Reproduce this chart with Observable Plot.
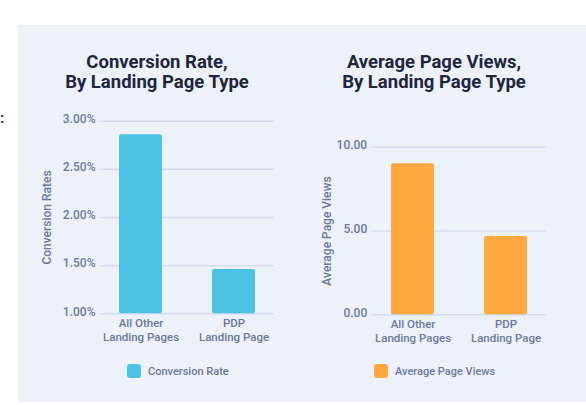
<!DOCTYPE html>
<html>
<head>
<meta charset="utf-8">
<script src="https://cdn.jsdelivr.net/npm/d3@7"></script>
<script src="https://cdn.jsdelivr.net/npm/@observablehq/plot@0.6"></script>
<style>
  html, body { margin: 0; padding: 0; background: #ffffff; }
  body { width: 586px; height: 405px; position: relative; overflow: hidden; font-family: Roboto, "Noto Sans", sans-serif; }
  #panel { position: absolute; left: 18px; top: 25px; width: 568px; height: 377px; background: #edf1fa; }
  .title { position: absolute; width: 300px; text-align: center; font-weight: 700; font-size: 18.5px; line-height: 20px; color: #1d2640; }
  .chart { position: absolute; }
  .legend { position: absolute; display: flex; align-items: center; font-size: 11px; color: #6a79a0; font-weight: 500; }
  .swatch { width: 14px; height: 14px; border-radius: 3px; margin-right: 7px; }
  #mark { position: absolute; left: 0px; top: 109px; font-weight: 700; font-size: 15px; color: #1b2b6e; }
</style>
</head>
<body>
<div id="mark">:</div>
<div id="panel"></div>
<div class="title" id="t1" style="left:7px; top:52px;"></div>
<div class="title" id="t2" style="left:284px; top:52px;"></div>
<div class="chart" id="c1" style="left:0px; top:100px;"></div>
<div class="chart" id="c2" style="left:290px; top:100px;"></div>
<div class="legend" id="l1" style="left:127px; top:364px;"></div>
<div class="legend" id="l2" style="left:374px; top:364px;"></div>
<script>
// Landing page categories (shown on two lines under each bar)
const categories = ["All Other\nLanding Pages", "PDP\nLanding Page"];

// Conversion rate, in percent
const conversionRate = [2.86, 1.46];
const conversionTicks = [1.0, 1.5, 2.0, 2.5, 3.0];

// Average page views per session
const pageViews = [9.01, 4.67];
const pageViewTicks = [0, 5, 10];

const titles = ["Conversion Rate,\nBy Landing Page Type", "Average Page Views,\nBy Landing Page Type"];
const seriesNames = ["Conversion Rate", "Average Page Views"];
const axisLabels = ["Conversion Rates", "Average Page Views"];
const colors = ["#4cc3e5", "#ffa940"];

const tickColor = "#6a79a0";
const gridColor = "#d3ddf1";

function barChart({values, ticks, domain, format, color, label, width, marginLeft, marginRight, marginTop, marginBottom, labelOffset}) {
  const data = categories.map((c, i) => ({cat: c, v: values[i]}));
  return Plot.plot({
    width,
    height: 250,
    marginLeft, marginRight, marginTop, marginBottom,
    style: {background: "transparent", fontFamily: "Roboto, sans-serif", fontSize: "12px", color: tickColor, fontWeight: 500},
    x: {domain: categories, paddingInner: 0.54, paddingOuter: 0.2},
    y: {domain},
    marks: [
      Plot.gridY(ticks, {stroke: gridColor, strokeOpacity: 1, strokeWidth: 1.5}),
      Plot.barY(data, {x: "cat", y1: domain[0], y2: "v", fill: color, rx: 2}),
      Plot.axisY(ticks, {tickSize: 0, tickPadding: 5, tickFormat: format, dy: -2, fill: tickColor,
        label, labelAnchor: "center", labelOffset, labelArrow: false}),
      Plot.axisX({tickSize: 0, tickPadding: 4, label: null, fontSize: 11.5, lineHeight: 1.18, fill: tickColor})
    ]
  });
}

document.getElementById("c1").append(barChart({
  values: conversionRate, ticks: conversionTicks, domain: [1, 3],
  format: d => d.toFixed(2) + "%", color: colors[0], label: axisLabels[0],
  width: 290, marginLeft: 100, marginRight: 16, marginTop: 20.7, marginBottom: 36.7, labelOffset: 58
}));

document.getElementById("c2").append(barChart({
  values: pageViews, ticks: pageViewTicks, domain: [0, 10],
  format: d => d.toFixed(2), color: colors[1], label: axisLabels[1],
  width: 296, marginLeft: 81.7, marginRight: 40.3, marginTop: 46.7, marginBottom: 35.7, labelOffset: 50
}));

["t1", "t2"].forEach((id, i) => {
  const el = document.getElementById(id);
  titles[i].split("\n").forEach(line => {
    const d = document.createElement("div");
    d.textContent = line;
    el.append(d);
  });
});

["l1", "l2"].forEach((id, i) => {
  const el = document.getElementById(id);
  const sw = document.createElement("div");
  sw.className = "swatch";
  sw.style.background = colors[i];
  const tx = document.createElement("span");
  tx.textContent = seriesNames[i];
  el.append(sw, tx);
});
</script>
</body>
</html>
